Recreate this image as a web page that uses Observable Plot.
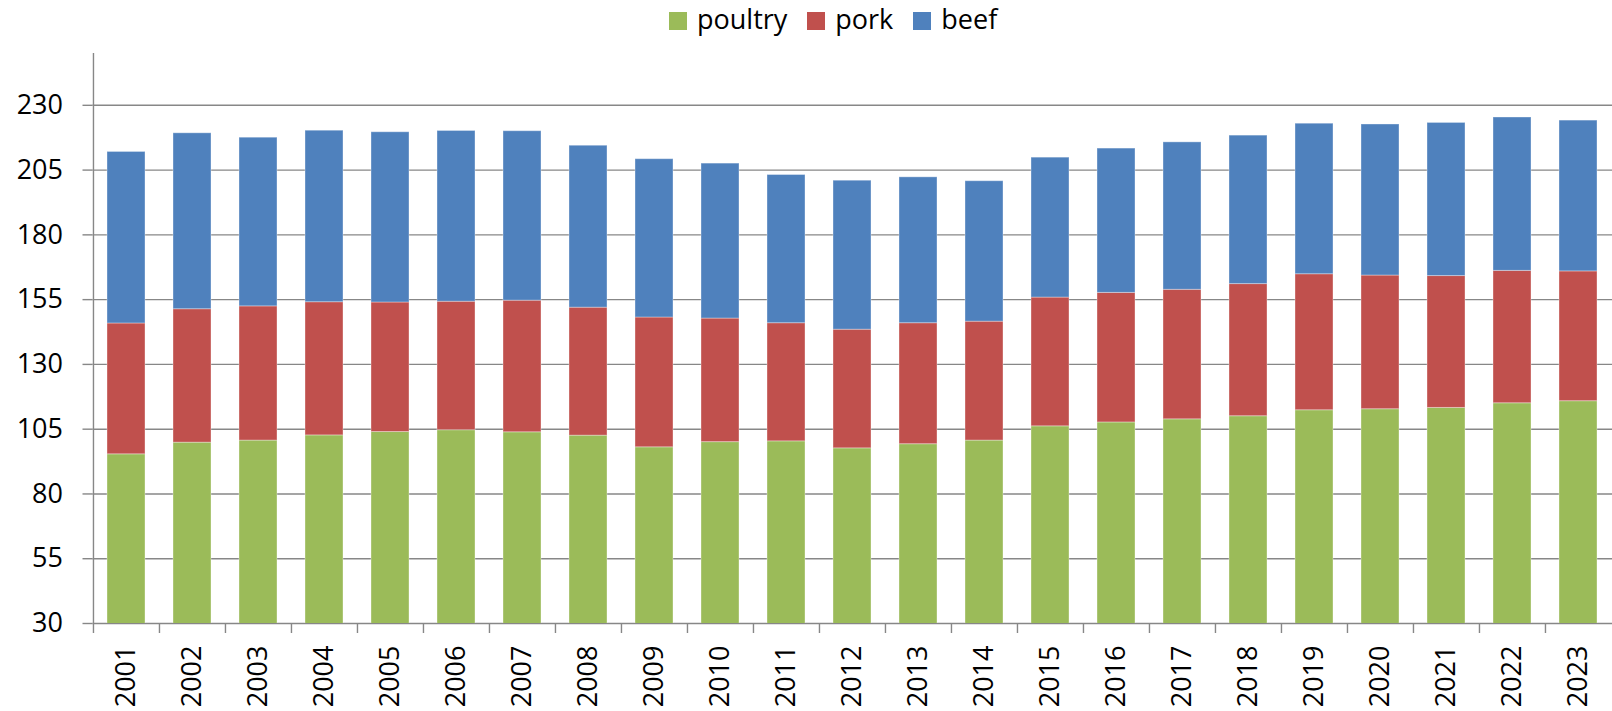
<!DOCTYPE html>
<html><head><meta charset="utf-8">
<script src="https://cdn.jsdelivr.net/npm/d3@7"></script>
<script src="https://cdn.jsdelivr.net/npm/@observablehq/plot@0.6"></script>
<style>
body{margin:0;background:#fff;font-family:"Open Sans",sans-serif;}
#legend{height:40px;display:flex;align-items:flex-start;padding-left:669px;font-size:27px;color:#000;box-sizing:border-box;}
.item{display:flex;align-items:flex-start;margin-right:20px;}
.sw{width:18px;height:18px;margin-top:12px;margin-right:10px;}
.lab{line-height:37px;}
</style></head><body>
<div id="legend"></div><div id="chart"></div>
<script>
const years = ["2001","2002","2003","2004","2005","2006","2007","2008","2009","2010","2011","2012","2013","2014","2015","2016","2017","2018","2019","2020","2021","2022","2023"];
const poultry = [95.3,99.8,100.6,102.6,103.9,104.6,103.8,102.5,98.0,100.0,100.3,97.6,99.2,100.6,106.1,107.6,108.8,110.0,112.3,112.7,113.2,115.0,115.8];
const pork    = [50.5,51.5,51.8,51.4,50.0,49.6,50.8,49.4,50.1,47.7,45.6,45.8,46.7,45.9,49.7,50.0,50.0,51.0,52.5,51.6,50.9,51.1,50.1];
const beef    = [66.2,67.9,65.1,66.2,65.7,65.9,65.4,62.5,61.1,59.8,57.2,57.5,56.3,54.2,54.0,55.7,56.9,57.3,58.1,58.3,59.1,59.2,58.2];
const seriesNames = ["poultry","pork","beef"];
const seriesColors = ["#9BBB59","#C0504D","#4F81BD"];
const yTicks = [30,55,80,105,130,155,180,205,230];
const yDomain = [30,250];

const seriesValues = [poultry, pork, beef];
const rows = [];
seriesNames.forEach((s, si) => years.forEach((y, i) => rows.push({year: y, meat: s, value: seriesValues[si][i]})));

// legend
const legend = document.getElementById("legend");
seriesNames.forEach((s, i) => {
  const it = document.createElement("div"); it.className = "item";
  const sw = document.createElement("div"); sw.className = "sw"; sw.style.background = seriesColors[i];
  const lb = document.createElement("span"); lb.className = "lab"; lb.textContent = s;
  it.appendChild(sw); it.appendChild(lb); legend.appendChild(it);
});

const width = 1612, height = 671, marginLeft = 92.5, marginRight = 0, marginTop = 13, marginBottom = 88;
const step = (width - marginLeft - marginRight) / years.length;
const gridColor = "#878787";

const chart = Plot.plot({
  width, height, marginLeft, marginRight, marginTop, marginBottom,
  style: {fontFamily: "'Open Sans', sans-serif", fontSize: "27px", color: "#000", background: "#fff"},
  x: {type: "band", domain: years, paddingInner: 0.43, paddingOuter: 0.215, label: null},
  y: {domain: yDomain, ticks: yTicks, label: null},
  color: {domain: seriesNames, range: seriesColors},
  marks: [
    Plot.gridY(yTicks, {stroke: gridColor, strokeOpacity: 1, strokeWidth: 1.4}),
    Plot.barY(rows, Plot.stackY({x: "year", y: "value", fill: "meat", clip: true, stroke: "#ffffff", strokeOpacity: 0.35, strokeWidth: 1})),
    Plot.ruleX([years[0]], {dx: -step / 2, y1: yDomain[0], y2: yDomain[1], stroke: gridColor, strokeWidth: 1.4}),
    Plot.axisY(yTicks, {tickSize: 10, tickPadding: 20, stroke: gridColor, strokeWidth: 1.4, fill: "#000", fontSize: 27}),
    Plot.axisX({tickSize: 10, tickFormat: () => "", dx: -step / 2, stroke: gridColor, strokeWidth: 1.4}),
    Plot.axisX({tickSize: 0, tickRotate: -90, tickPadding: 22, fill: "#000", fontSize: 27})
  ]
});
document.getElementById("chart").appendChild(chart);
</script>
</body></html>
